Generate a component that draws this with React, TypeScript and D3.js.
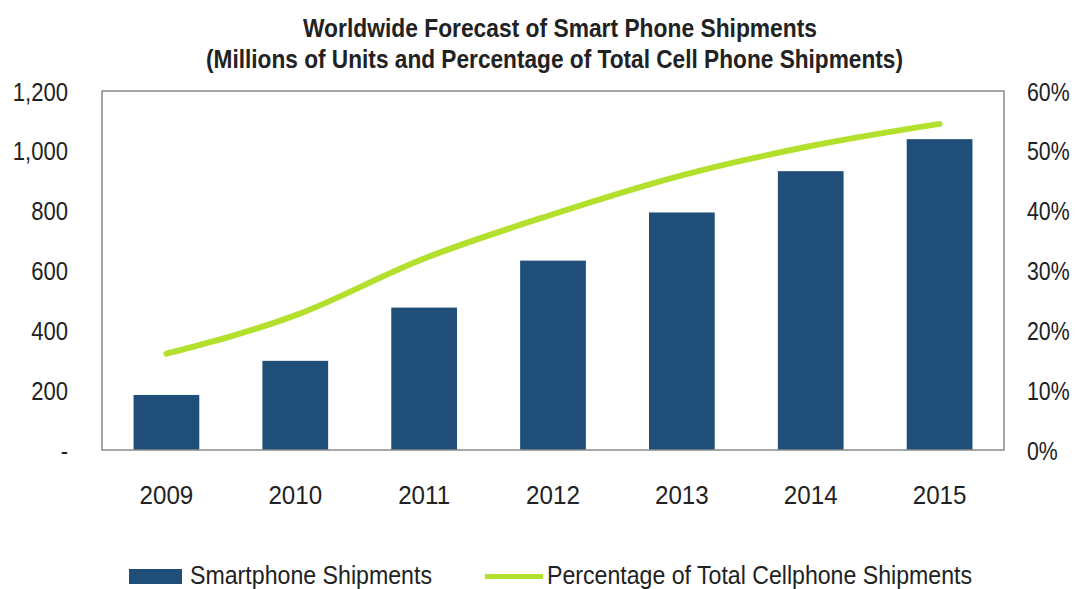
import React from "react";
import * as d3 from "d3";

const years = ["2009", "2010", "2011", "2012", "2013", "2014", "2015"];
const shipments = [184, 298, 476, 633, 794, 932, 1039];
const percentages = [16.1, 22.5, 32.0, 39.4, 45.9, 50.8, 54.5];
const leftTicks = [0, 200, 400, 600, 800, 1000, 1200];
const rightTicks = [0, 10, 20, 30, 40, 50, 60];
const titleLines = [
  "Worldwide Forecast of Smart Phone Shipments",
  "(Millions of Units and Percentage of Total Cell Phone Shipments)",
];
const seriesNames = ["Smartphone Shipments", "Percentage of Total Cellphone Shipments"];

const W = 1075;
const H = 589;
const plot = { left: 102, right: 1004, top: 91, bottom: 450 };
const FONT = "'Liberation Sans', Arial, sans-serif";
const BAR = "#1f4e79";
const LINE = "#b3e02c";
const TXT = "#222";

function SText(props: { x: number; y: number; sx: number; anchor?: string; size: number; weight?: string; children: React.ReactNode }) {
  const { x, y, sx, anchor, size, weight, children } = props;
  return (
    <text
      transform={`translate(${x},${y}) scale(${sx},1)`}
      textAnchor={anchor || "start"}
      fontSize={size}
      fontWeight={weight || "normal"}
      fill={TXT}
    >
      {children}
    </text>
  );
}

export default function App() {
  const x = d3.scaleBand<string>().domain(years).range([plot.left, plot.right]).paddingInner(0.49).paddingOuter(0.245);
  const yL = d3.scaleLinear().domain([0, 1200]).range([plot.bottom, plot.top]);
  const yR = d3.scaleLinear().domain([0, 60]).range([plot.bottom, plot.top]);
  const fmt = d3.format(",");
  const line = d3
    .line<number>()
    .x((_, i) => (x(years[i]) as number) + x.bandwidth() / 2)
    .y((d) => yR(d))
    .curve(d3.curveMonotoneX);

  return (
    <svg width={W} height={H} style={{ position: "absolute", left: 0, top: 0, background: "#fff" }} fontFamily={FONT}>
      <text x={303} y={37} fontSize={26} fontWeight="bold" fill={TXT} textLength={514} lengthAdjust="spacingAndGlyphs">
        {titleLines[0]}
      </text>
      <text x={206} y={68} fontSize={26} fontWeight="bold" fill={TXT} textLength={697} lengthAdjust="spacingAndGlyphs">
        {titleLines[1]}
      </text>
      {years.map((yr, i) => (
        <rect key={yr} x={x(yr)} y={yL(shipments[i])} width={x.bandwidth()} height={plot.bottom - yL(shipments[i])} fill={BAR} />
      ))}
      <rect x={plot.left} y={plot.top} width={plot.right - plot.left} height={plot.bottom - plot.top} fill="none" stroke="#8a8a8a" strokeWidth={1.5} />
      <path d={line(percentages) || ""} fill="none" stroke={LINE} strokeWidth={6} strokeLinecap="round" />
      {leftTicks.map((t) => (
        <SText key={t} x={68} y={yL(t) + 9.5} sx={0.85} anchor="end" size={26}>
          {t === 0 ? "-" : fmt(t)}
        </SText>
      ))}
      {rightTicks.map((t) => (
        <SText key={t} x={1027} y={yR(t) + 9.5} sx={0.82} size={26}>
          {t + "%"}
        </SText>
      ))}
      {years.map((yr) => (
        <SText key={yr} x={(x(yr) as number) + x.bandwidth() / 2} y={504} sx={0.93} anchor="middle" size={26}>
          {yr}
        </SText>
      ))}
      <rect x={129} y={569} width={53} height={15} fill={BAR} />
      <text x={190} y={584} fontSize={26} fill={TXT} textLength={242} lengthAdjust="spacingAndGlyphs">
        {seriesNames[0]}
      </text>
      <line x1={485} x2={543} y1={576.5} y2={576.5} stroke={LINE} strokeWidth={5} />
      <text x={547} y={584} fontSize={26} fill={TXT} textLength={425} lengthAdjust="spacingAndGlyphs">
        {seriesNames[1]}
      </text>
    </svg>
  );
}
